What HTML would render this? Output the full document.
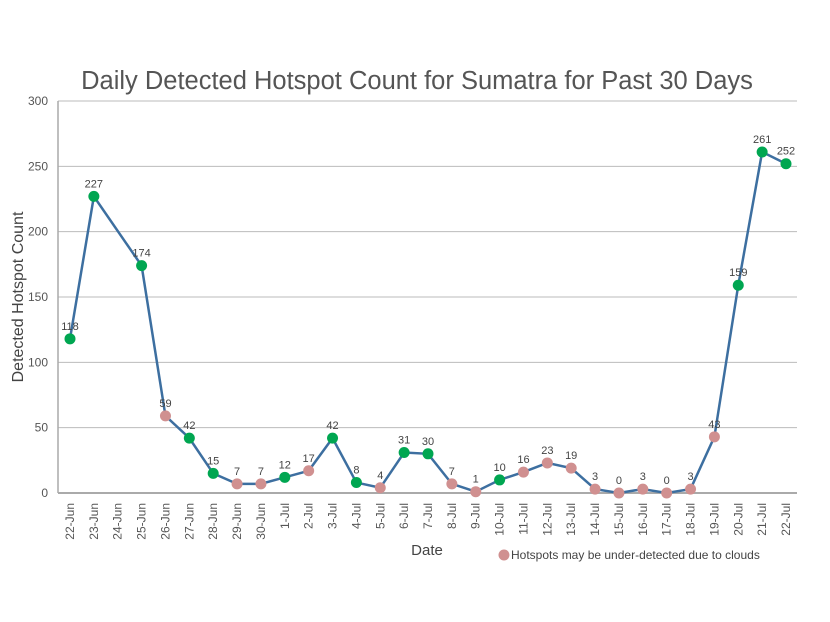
<!DOCTYPE html>
<html><head><meta charset="utf-8"><style>
html,body{margin:0;padding:0;background:#fff;}
svg{display:block;font-family:"Liberation Sans",sans-serif;}
</style></head><body>
<svg id="chart" width="830" height="622">
<text x="417" y="89" text-anchor="middle" font-size="25.5" fill="#555">Daily Detected Hotspot Count for Sumatra for Past 30 Days</text>
<text transform="translate(23,297) rotate(-90)" text-anchor="middle" font-size="16" fill="#444">Detected Hotspot Count</text>
<text x="427" y="555" text-anchor="middle" font-size="15" fill="#444">Date</text>
<g>
<circle cx="504" cy="555" r="5.5" fill="#d09090"/>
<text x="511" y="559" font-size="12" fill="#444">Hotspots may be under-detected due to clouds</text>
</g>
<g id="grid"></g><g id="axes"></g><g id="series"></g>
</svg>
<script>
const categories=["22-Jun","23-Jun","24-Jun","25-Jun","26-Jun","27-Jun","28-Jun","29-Jun","30-Jun","1-Jul","2-Jul","3-Jul","4-Jul","5-Jul","6-Jul","7-Jul","8-Jul","9-Jul","10-Jul","11-Jul","12-Jul","13-Jul","14-Jul","15-Jul","16-Jul","17-Jul","18-Jul","19-Jul","20-Jul","21-Jul","22-Jul"];
const values=[118,227,null,174,59,42,15,7,7,12,17,42,8,4,31,30,7,1,10,16,23,19,3,0,3,0,3,43,159,261,252];
const cloudy=[0,0,0,0,1,0,0,1,1,0,1,0,0,1,0,0,1,1,0,1,1,1,1,1,1,1,1,1,0,0,0];
const yTicks=[0,50,100,150,200,250,300];
const NS="http://www.w3.org/2000/svg";
const x0=70,dx=(786-70)/30,yb=493,yt=101,ymax=300,pl=58,pr=797;
const X=i=>x0+i*dx, Y=v=>yb-(v/ymax)*(yb-yt);
function mk(t,a,p){const e=document.createElementNS(NS,t);for(const k in a)e.setAttribute(k,a[k]);p.appendChild(e);return e;}
const grid=document.getElementById('grid'),axes=document.getElementById('axes'),ser=document.getElementById('series');
yTicks.forEach(t=>{
 const l=mk('line',{x1:pl,x2:pr,y1:Y(t),y2:Y(t),stroke:t===0?'#aaa':'#bbb','stroke-width':t===0?2:1},grid);
 
 
 const tx=mk('text',{x:pl-10,y:Y(t)+4,'text-anchor':'end','font-size':12,fill:'#555'},axes);tx.textContent=t;
 
 
});
const ax=mk('line',{x1:pl,x2:pl,y1:yt,y2:yb,stroke:'#aaa','stroke-width':1.5},axes);


categories.forEach((c,i)=>{
 const tx=mk('text',{transform:`translate(${X(i)+4},503) rotate(-90)`,'text-anchor':'end','font-size':12,fill:'#555'},axes);tx.textContent=c;
 
 
});
let d='';values.forEach((v,i)=>{if(v===null)return;d+=(d?'L':'M')+X(i)+','+Y(v);});
const p=mk('path',{d:d,fill:'none',stroke:'#3d6fa0','stroke-width':2.5},ser);


values.forEach((v,i)=>{
 if(v===null)return;
 const c=mk('circle',{cx:X(i),cy:Y(v),r:5.5,fill:cloudy[i]?'#d09090':'#00a651'},ser);
 
 
 const t=mk('text',{x:X(i),y:Y(v)-9,'text-anchor':'middle','font-size':11,fill:'#444'},ser);t.textContent=v;
 
 
});
</script>
</body></html>
